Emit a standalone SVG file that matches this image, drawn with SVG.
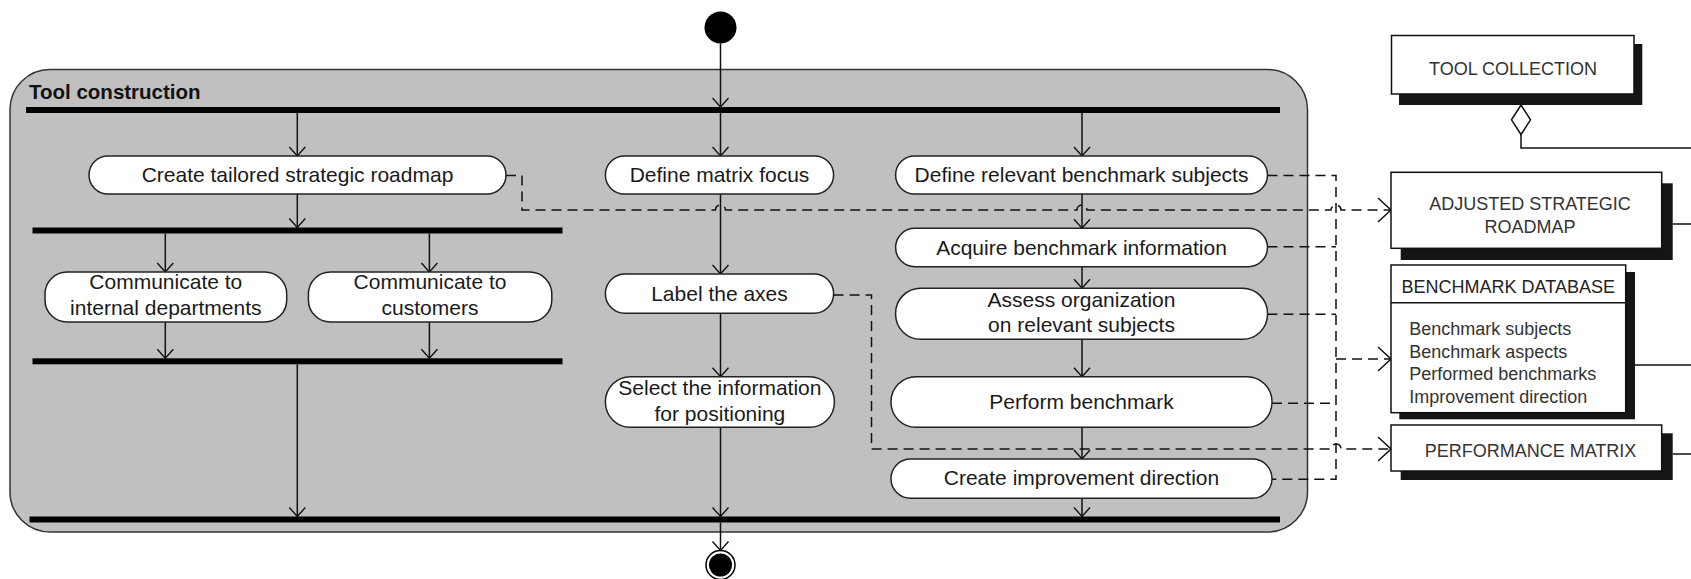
<svg xmlns="http://www.w3.org/2000/svg" width="1691" height="579" viewBox="0 0 1691 579">
<style>
.node rect.a{fill:#fff;stroke:#222;stroke-width:1.5}
.t{font-family:"Liberation Sans",Arial,sans-serif;font-size:21px;fill:#1a1a1a;text-anchor:middle}
.bt{font-family:"Liberation Sans",Arial,sans-serif;font-size:18px;fill:#333;text-anchor:middle}
.bl{font-family:"Liberation Sans",Arial,sans-serif;font-size:18px;fill:#333}
.bar{fill:#000}
.box{fill:#fff;stroke:#111;stroke-width:1.5}
.shadow{fill:#151515}
.flow{stroke:#111;stroke-width:1.5;fill:none;marker-end:url(#arr)}
.dep{stroke:#111;stroke-width:1.5;fill:none;stroke-dasharray:10 6}
.deparr{marker-end:url(#darr)}
.line{stroke:#111;stroke-width:1.5;fill:none}
</style>
<defs>
<marker id="arr" viewBox="-10 -9 12 18" refX="0" refY="0" markerWidth="12" markerHeight="18" orient="auto" markerUnits="userSpaceOnUse">
<path d="M-9,-8 L0,0 L-9,8" fill="none" stroke="#111" stroke-width="1.4" stroke-dasharray="none"/>
</marker>
<marker id="darr" viewBox="-15 -13 17 26" refX="0" refY="0" markerWidth="17" markerHeight="26" orient="auto" markerUnits="userSpaceOnUse">
<path d="M-13,-12 L0,0 L-13,12" fill="none" stroke="#111" stroke-width="1.5" stroke-dasharray="none"/>
</marker>
</defs>

<g id="container">
<rect x="10" y="69.5" width="1297.5" height="462.5" rx="40" fill="#c0c0c0" stroke="#333" stroke-width="1.5"/>
<text x="29" y="98.5" font-family="Liberation Sans,Arial,sans-serif" font-size="20.5" font-weight="bold" fill="#111">Tool construction</text>
</g>

<g id="start"><circle cx="720.5" cy="27.5" r="16" fill="#000"/></g>
<g id="end"><circle cx="720.5" cy="565" r="14.5" fill="none" stroke="#000" stroke-width="1.5"/><circle cx="720.5" cy="565" r="11.5" fill="#000"/></g>

<g id="bars">
<rect id="fork1" class="bar" x="26" y="107" width="1254" height="6"/>
<rect id="fork2" class="bar" x="32.5" y="227.5" width="530" height="6"/>
<rect id="join1" class="bar" x="32.5" y="358.3" width="530" height="6"/>
<rect id="join2" class="bar" x="29.5" y="516.5" width="1250.5" height="6"/>
</g>

<g id="connectors">
<path class="flow" d="M720.5,43.5 V107"/>
<path class="flow" d="M297.3,113 V156"/>
<path class="flow" d="M720.5,113 V156"/>
<path class="flow" d="M1082,113 V156"/>
<path class="flow" d="M297.3,194 V227.5"/>
<path class="flow" d="M165.3,233.5 V272"/>
<path class="flow" d="M429.4,233.5 V272"/>
<path class="flow" d="M165.3,322 V358.3"/>
<path class="flow" d="M429.4,322 V358.3"/>
<path class="flow" d="M297.3,364.3 V516.5"/>
<path class="flow" d="M720.5,194 V274"/>
<path class="flow" d="M720.5,313.3 V376.7"/>
<path class="flow" d="M720.5,427.3 V516.5"/>
<path class="flow" d="M720.5,522.5 V550.5"/>
<path class="flow" d="M1082,194 V228.3"/>
<path class="flow" d="M1082,266.7 V288.3"/>
<path class="flow" d="M1082,339.3 V376.7"/>
<path class="flow" d="M1082,427.3 V459"/>
<path class="flow" d="M1082,498.3 V516.5"/>

<path class="dep deparr" d="M506,175.5 H522 V210 H715.5 A5,5 0 0 1 725.5,210 H1077 A5,5 0 0 1 1087,210 H1331 A5,5 0 0 1 1341,210 H1391"/>
<path class="dep deparr" d="M833.6,295 H871.5 V449 H1331 A5,5 0 0 1 1341,449 H1391"/>
<path class="dep" d="M1267.5,175.5 H1336 V479.3 H1272"/>
<path class="dep" d="M1267.5,246.7 H1336"/>
<path class="dep" d="M1267.5,314.3 H1336"/>
<path class="dep" d="M1272,403.3 H1336"/>
<path class="dep deparr" d="M1336,359 H1391"/>

<path class="line" d="M1521,134.5 V148 H1691"/>
<path class="line" d="M1672.7,224 H1691"/>
<path class="line" d="M1635,365 H1691"/>
<path class="line" d="M1672.7,454 H1691"/>
</g>

<g id="n-roadmap" class="node"><rect class="a" x="89" y="156" width="417" height="38" rx="19"/><text class="t" x="297.5" y="182">Create tailored strategic roadmap</text></g>
<g id="n-matrixfocus" class="node"><rect class="a" x="605.4" y="156" width="228.2" height="38" rx="19"/><text class="t" x="719.5" y="182">Define matrix focus</text></g>
<g id="n-subjects" class="node"><rect class="a" x="895.6" y="156" width="371.9" height="38" rx="19"/><text class="t" x="1081.5" y="182">Define relevant benchmark subjects</text></g>
<g id="n-internal" class="node"><rect class="a" x="45" y="272" width="241.7" height="50" rx="22"/><text class="t" x="165.8" y="288.5">Communicate to</text><text class="t" x="165.8" y="315">internal departments</text></g>
<g id="n-customers" class="node"><rect class="a" x="308.4" y="272" width="243.4" height="50" rx="22"/><text class="t" x="430" y="288.5">Communicate to</text><text class="t" x="430" y="315">customers</text></g>
<g id="n-axes" class="node"><rect class="a" x="605.4" y="274" width="228.2" height="39.3" rx="19.6"/><text class="t" x="719.5" y="300.5">Label the axes</text></g>
<g id="n-select" class="node"><rect class="a" x="605.4" y="376.7" width="229" height="50.6" rx="25"/><text class="t" x="719.9" y="395">Select the information</text><text class="t" x="719.9" y="420.5">for positioning</text></g>
<g id="n-acquire" class="node"><rect class="a" x="895.6" y="228.3" width="371.9" height="38.4" rx="19.2"/><text class="t" x="1081.5" y="254.5">Acquire benchmark information</text></g>
<g id="n-assess" class="node"><rect class="a" x="895.6" y="288.3" width="371.9" height="51" rx="25"/><text class="t" x="1081.5" y="306.5">Assess organization</text><text class="t" x="1081.5" y="332">on relevant subjects</text></g>
<g id="n-perform" class="node"><rect class="a" x="891" y="376.7" width="381" height="50.6" rx="25"/><text class="t" x="1081.5" y="408.5">Perform benchmark</text></g>
<g id="n-improve" class="node"><rect class="a" x="891" y="459" width="381" height="39.3" rx="19.6"/><text class="t" x="1081.5" y="485">Create improvement direction</text></g>

<g id="o-toolcollection"><rect class="shadow" x="1399" y="44" width="243.3" height="61"/><rect class="box" x="1391.5" y="35.5" width="242.5" height="58.5"/><text class="bt" x="1513" y="75">TOOL COLLECTION</text>
<path d="M1521,105 L1530.5,119.8 L1521,134.5 L1511.5,119.8 Z" fill="#fff" stroke="#111" stroke-width="1.5"/></g>
<g id="o-roadmap"><rect class="shadow" x="1400.7" y="183.3" width="272" height="76.7"/><rect class="box" x="1391" y="172.3" width="270.7" height="76"/><text class="bt" x="1530" y="210">ADJUSTED STRATEGIC</text><text class="bt" x="1530" y="232.5">ROADMAP</text></g>
<g id="o-database"><rect class="shadow" x="1399.3" y="272" width="235.7" height="147.3"/><rect class="box" x="1391" y="265" width="234.7" height="147.7"/><line x1="1391" y1="302.7" x2="1625.7" y2="302.7" stroke="#111" stroke-width="1.5"/><text class="bt" x="1508.3" y="292.5" style="fill:#222">BENCHMARK DATABASE</text>
<text class="bl" x="1409.3" y="335">Benchmark subjects</text><text class="bl" x="1409.3" y="357.5">Benchmark aspects</text><text class="bl" x="1409.3" y="380">Performed benchmarks</text><text class="bl" x="1409.3" y="402.5">Improvement direction</text></g>
<g id="o-matrix"><rect class="shadow" x="1400.7" y="433.3" width="272" height="46.7"/><rect class="box" x="1391" y="425" width="270.7" height="46"/><text class="bt" x="1530.5" y="456.5">PERFORMANCE MATRIX</text></g>
</svg>
